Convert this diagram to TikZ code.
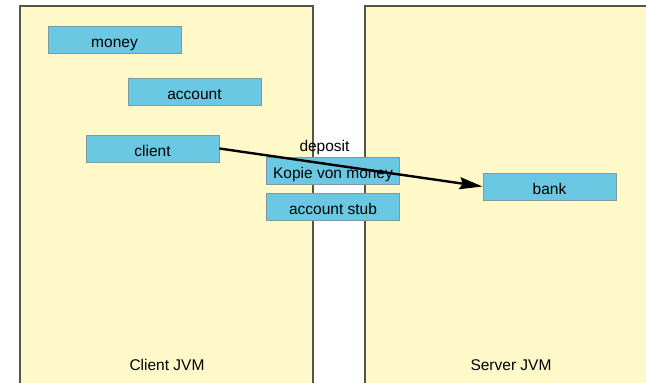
\documentclass[tikz,border=0pt]{standalone}
\usepackage{fontspec}
\setmainfont{Liberation Sans}
\usetikzlibrary{arrows.meta}
\definecolor{jvmfill}{HTML}{FFF9C9}
\definecolor{jvmline}{HTML}{55554C}
\definecolor{objfill}{HTML}{6AC8E2}
\definecolor{objline}{HTML}{7F98A2}
\tikzset{
  jvm/.style={fill=jvmfill, draw=jvmline, line width=1.2pt},
  obj/.style={rectangle, fill=objfill, draw=objline, line width=0.9pt,
    minimum width=133pt, minimum height=27pt, inner sep=0pt,
    text height=15pt, text depth=0pt,
    font=\fontsize{15.5}{18}\selectfont},
  lbl/.style={inner sep=0pt, font=\fontsize{15.5}{18}\selectfont},
  call/.style={line width=2.4pt, -{Stealth[length=23pt,width=12pt,inset=3pt]}}
}
\begin{document}
\begin{tikzpicture}[x=1pt, y=-1pt]
  \useasboundingbox (0,0) rectangle (646,383);
  % the two virtual machines
  \draw[jvm] (20,6) rectangle (313,395);
  \draw[jvm] (365,6) rectangle (660,395);
  \node[lbl] (clientjvm) at (167,365) {Client JVM};
  \node[lbl] (serverjvm) at (511,365) {Server JVM};
  % objects on the client side
  \node[obj] (money)   at (114.5,39.5)  {money};
  \node[obj] (account) at (194.5,91.5)  {account};
  \node[obj] (client)  at (152.5,148.5) {client};
  % transferred objects between the machines
  \node[obj] (kopie) at (333,171)   {Kopie von money};
  \node[obj] (stub)  at (333,206.5) {account stub};
  % server object
  \node[obj] (bank) at (549.5,186.5) {bank};
  % remote call
  \node[lbl] (deposit) at (324.5,147) {deposit};
  \draw[call] (client.east) -- (bank.west);
\end{tikzpicture}
\end{document}
